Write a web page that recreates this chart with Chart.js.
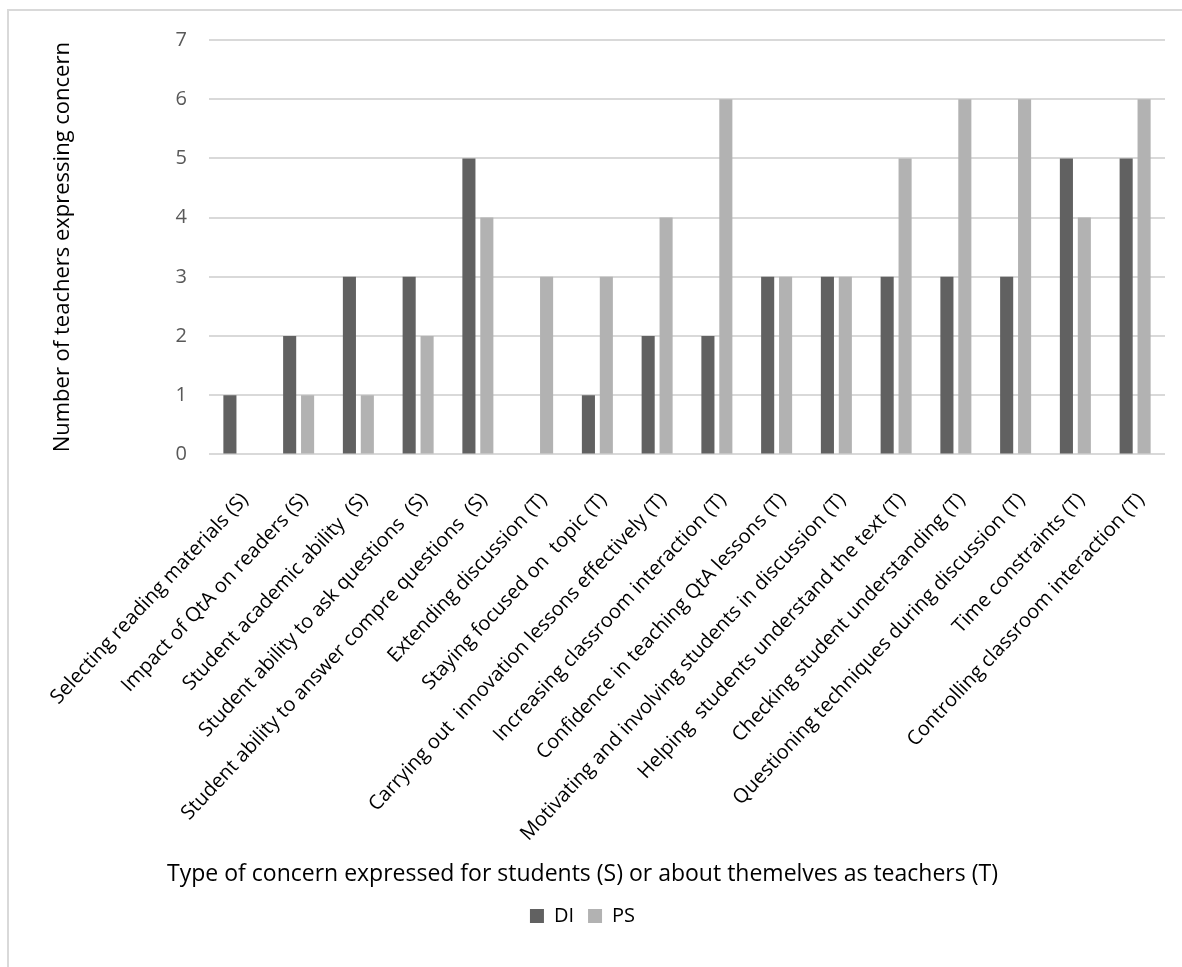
<!DOCTYPE html>
<html>
<head>
<meta charset="utf-8">
<script src="https://cdn.jsdelivr.net/npm/chart.js@4"></script>
<style>
  html, body { margin: 0; padding: 0; background: #fff; overflow: hidden; }
  #frame { position: absolute; left: 7px; top: 9px; width: 2000px; height: 2000px;
           border: 2px solid #d9d9d9; box-sizing: border-box; }
  #c { position: absolute; left: 0; top: 0; }
</style>
</head>
<body>
<div id="frame"></div>
<canvas id="c" width="1182" height="967"></canvas>
<script>
// Concern categories: (S) = about students, (T) = about themselves as teachers
const categories = [
  'Selecting reading materials (S)',
  'Impact of QtA on readers (S)',
  'Student academic ability  (S)',
  'Student ability to ask questions  (S)',
  'Student ability to answer compre questions  (S)',
  'Extending discussion (T)',
  'Staying focused on  topic (T)',
  'Carrying out  innovation lessons effectively (T)',
  'Increasing classroom interaction (T)',
  'Confidence in teaching QtA lessons (T)',
  'Motivating and involving students in discussion (T)',
  'Helping  students understand the text (T)',
  'Checking student understanding (T)',
  'Questioning techniques during discussion (T)',
  'Time constraints (T)',
  'Controlling classroom interaction (T)'
];
const diValues = [1, 2, 3, 3, 5, 0, 1, 2, 2, 3, 3, 3, 3, 3, 5, 5];
const psValues = [0, 1, 1, 2, 4, 3, 3, 4, 6, 3, 3, 5, 6, 6, 4, 6];
const yTicks = [0, 1, 2, 3, 4, 5, 6, 7];
const seriesNames = ['DI', 'PS'];

const FONT = '"Open Sans", "Noto Sans", sans-serif';

new Chart(document.getElementById('c'), {
  type: 'bar',
  data: {
    labels: categories,
    datasets: [
      { label: seriesNames[0], data: diValues, backgroundColor: '#616161',
        categoryPercentage: 0.6, barPercentage: 0.73 },
      { label: seriesNames[1], data: psValues, backgroundColor: '#b2b2b2',
        categoryPercentage: 0.6, barPercentage: 0.73 }
    ]
  },
  options: {
    responsive: false,
    animation: false,
    layout: { padding: { top: 40, right: 17, bottom: 31, left: 0 } },
    scales: {
      x: {
        afterFit: (scale) => { scale.height = 402; },
        grid: { display: false },
        border: { display: false },
        ticks: {
          autoSkip: false, maxRotation: 47, minRotation: 47,
          font: { family: FONT, size: 20 }, color: '#000', padding: 26, labelOffset: 6
        }
      },
      y: {
        min: 0, max: 7,
        afterBuildTicks: (scale) => { scale.ticks = yTicks.map(v => ({ value: v })); },
        afterFit: (scale) => { scale.width = 209; },
        grid: { color: '#d9d9d9', lineWidth: 2, drawTicks: false },
        border: { display: false },
        ticks: { font: { family: FONT, size: 20 }, color: '#595959', padding: 22 },
        title: {
          display: true, text: 'Number of teachers expressing concern',
          font: { family: FONT, size: 22 }, color: '#000',
          padding: { top: 50, bottom: 0 }
        }
      }
    },
    plugins: {
      tooltip: { enabled: false },
      title: {
        display: true, position: 'bottom', weight: 500,
        text: 'Type of concern expressed for students (S) or about themelves as teachers (T)',
        font: { family: FONT, size: 23, weight: 'normal' }, color: '#000',
        padding: { top: 4, bottom: 4 }
      },
      legend: {
        position: 'bottom', weight: 1000,
        labels: { boxWidth: 14, boxHeight: 14, padding: 14,
                  font: { family: FONT, size: 20 }, color: '#000' }
      }
    }
  }
});
</script>
</body>
</html>
